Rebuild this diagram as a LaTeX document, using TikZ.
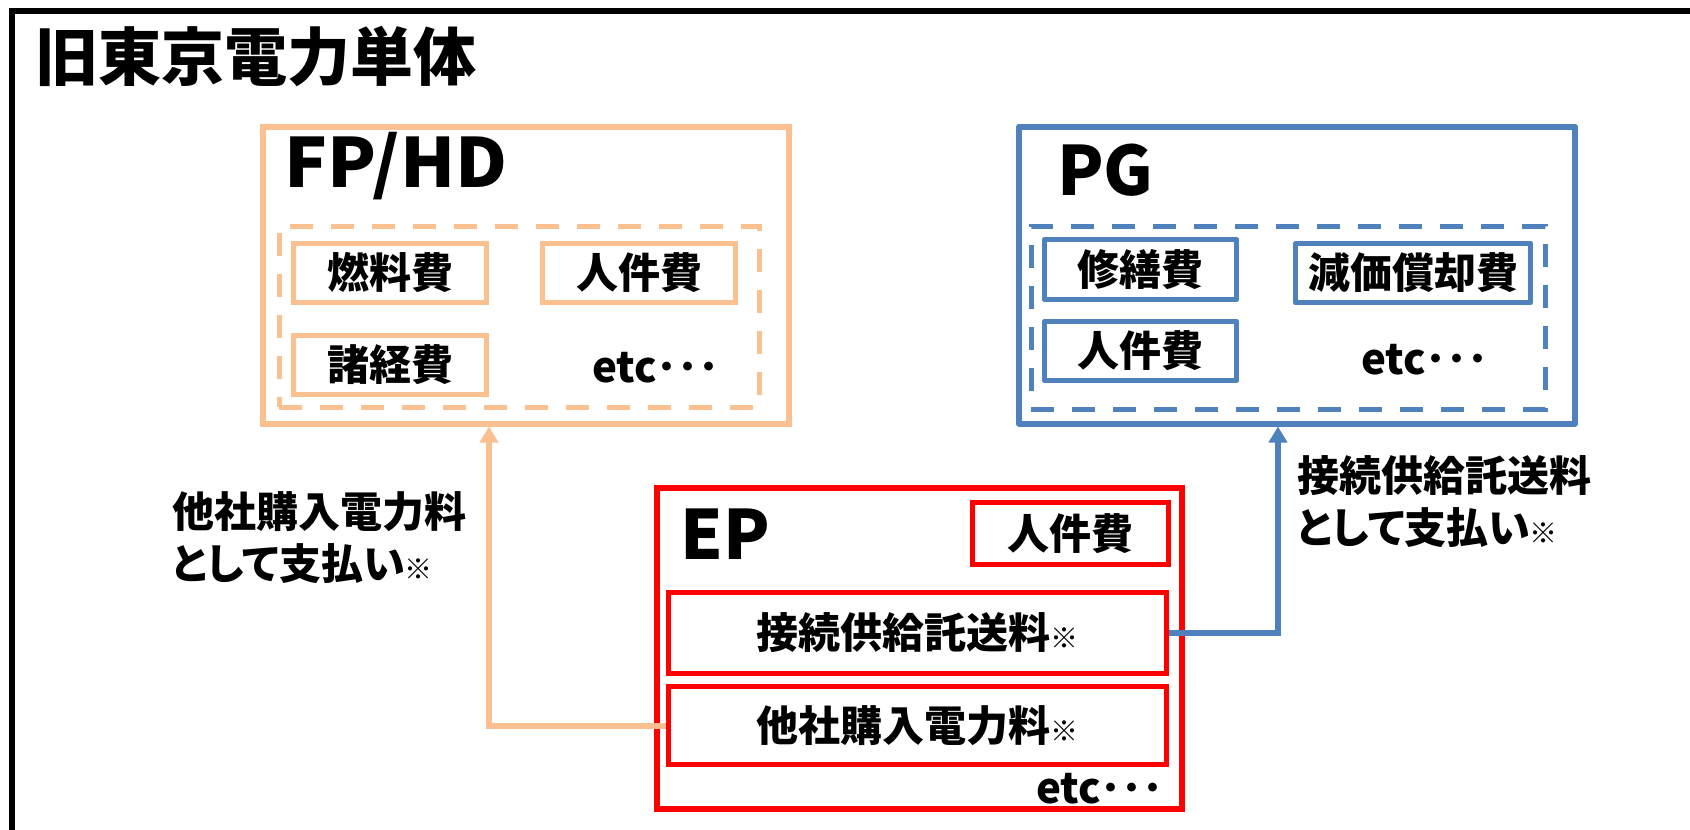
\documentclass[tikz,border=0pt]{standalone}
\usepackage{fontspec}
\setmainfont{Noto Sans CJK JP}
\usetikzlibrary{arrows.meta}
\definecolor{fporange}{HTML}{FAC090}
\definecolor{pgblue}{HTML}{4F81BD}
\definecolor{epred}{HTML}{FF0000}
\newcommand\fsz[1]{\fontsize{#1}{#1}\selectfont}
\newcommand\kome{{\fontsize{28}{28}\selectfont ※}}
\newcommand\prop[1]{{\addfontfeatures{RawFeature=+palt}#1}}
\begin{document}
\begin{tikzpicture}[x=1pt,y=-1pt,
  every node/.style={inner sep=0pt},
  txt/.style={font=\bfseries\fsz{42}},
  big/.style={font=\bfseries\fsz{68}, anchor=base west},
  fpbox/.style={draw=fporange, line width=5.5pt, txt},
  pgbox/.style={draw=pgblue, line width=5.5pt, line join=round, txt},
  epbox/.style={draw=epred, line width=5.5pt, txt},
  dashbox/.style={line width=5pt, dash pattern=on 23pt off 18pt},
  tip/.style={-{Triangle[length=16pt,width=18pt]}, line width=6pt},
  lbl/.style={txt, align=left, anchor=west, execute at begin node=\setlength{\baselineskip}{52pt}}]
\useasboundingbox (0,0) rectangle (1690,830);
\clip (0,0) rectangle (1690,830);
\fill[white] (0,0) rectangle (1690,830);
% outer frame
\draw[line width=6pt] (11.5,900) -- (11.5,11) -- (1760,11);
\node[anchor=west, font=\bfseries\fsz{63}] (title) at (35,57) {旧東京電力単体};

% FP/HD
\node[draw=fporange, line width=6pt, minimum width=526pt, minimum height=297pt] (fphd) at (526,275) {};
\node[big] (fptitle) at (284,187) {\scalebox{1.05}[1]{FP/HD}};
\node[draw=fporange, dashbox, minimum width=480pt, minimum height=181pt] (fpdash) at (519,316.5) {};
\node[fpbox, minimum width=193pt, minimum height=59pt] (fuel) at (390,273) {燃料費};
\node[fpbox, minimum width=193pt, minimum height=59pt] (fplabor) at (639,273) {人件費};
\node[fpbox, minimum width=193pt, minimum height=59pt] (misc) at (390,365) {諸経費};
\node[txt] (fpetc) at (656,368) {etc･･･};

% PG
\node[draw=pgblue, line width=6pt, line join=round, minimum width=556pt, minimum height=297pt] (pg) at (1297,275) {};
\node[big] (pgtitle) at (1057,195) {PG};
\node[draw=pgblue, dashbox, minimum width=514pt, minimum height=183pt] (pgdash) at (1288,317.5) {};
\node[pgbox, minimum width=192pt, minimum height=60pt] (repair) at (1140.5,269.5) {修繕費};
\node[pgbox, minimum width=235pt, minimum height=59pt] (depr) at (1413,273) {減価償却費};
\node[pgbox, minimum width=192pt, minimum height=59pt] (pglabor) at (1140.5,351) {人件費};
\node[txt] (pgetc) at (1425,360) {etc･･･};

% EP
\node[draw=epred, line width=6.5pt, minimum width=525pt, minimum height=321pt] (ep) at (919.5,648.5) {};
\node[big] (eptitle) at (680,559) {EP};
\node[epbox, minimum width=196pt, minimum height=62pt] (eplabor) at (1070.5,533.5) {人件費};
\node[epbox, minimum width=498pt, minimum height=81pt] (setsu) at (917.5,633) {接続供給託送料\kome};
\node[epbox, minimum width=498pt, minimum height=78pt] (tasha) at (917.5,725.5) {他社購入電力料\kome};
\node[txt] (epetc) at (1100,789) {etc･･･};

% connectors
\draw[tip, fporange] (tasha.west) -| ([xshift=-37pt]fphd.south);
\draw[tip, pgblue] (setsu.east) -| ([xshift=-19pt]pg.south);

% labels
\node[lbl] (lblleft) at (172,538) {他社購入電力料\\\prop{として支払い}\kome};
\node[lbl] (lblright) at (1297,502) {接続供給託送料\\\prop{として支払い}\kome};
\end{tikzpicture}
\end{document}
